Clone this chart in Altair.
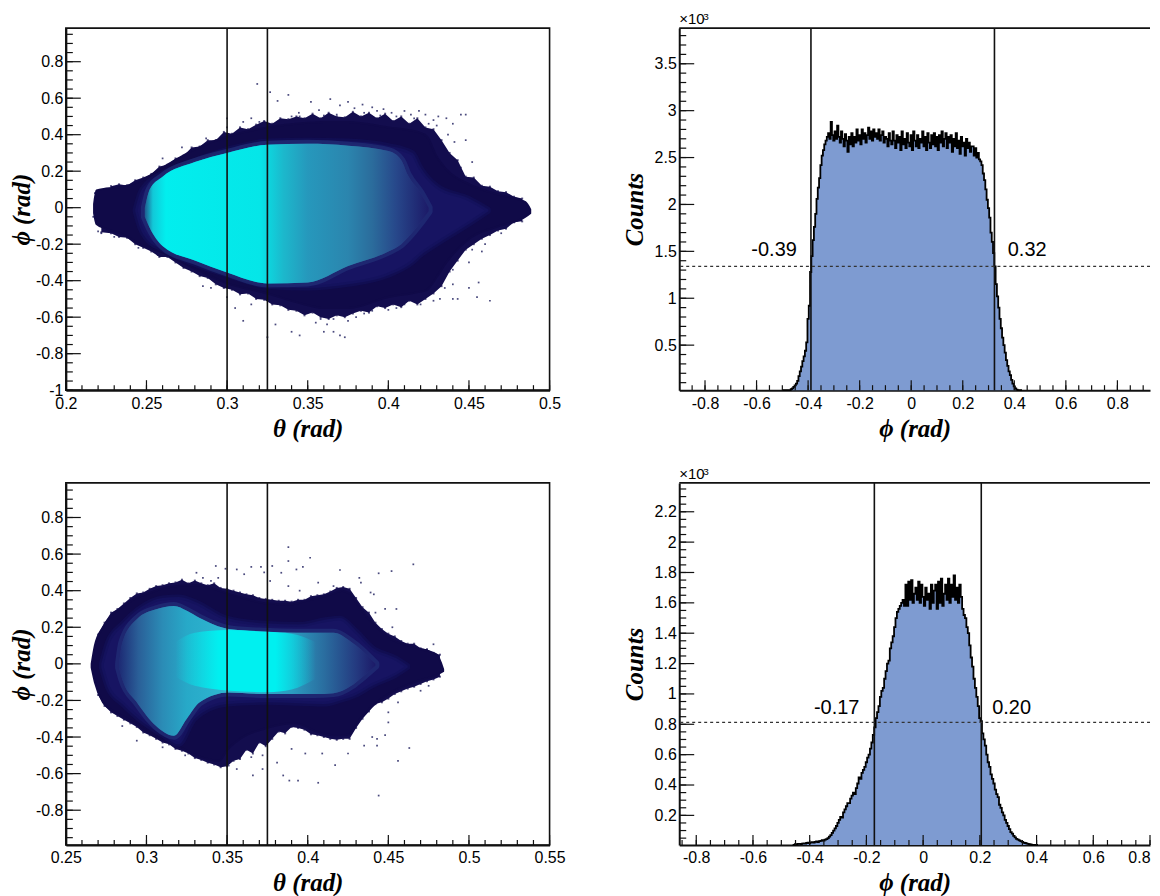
import altair as alt
import pandas as pd

# ---------- top-left heat map (theta vs phi) contours
a_outer_t = [.2175,.219,.225,.235,.245,.26,.28,.3,.325,.35,.36,.375,.4,.42,.424,.43,.436,.451,.469,.485,.488]
a_outer_u = [.02,.095,.105,.115,.14,.22,.32,.39,.44,.465,.47,.47,.44,.41,.39,.28,.21,.125,.07,.03,-.01]
a_outer_l = [-.03,-.09,-.115,-.145,-.195,-.245,-.335,-.415,-.47,-.535,-.55,-.55,-.49,-.46,-.45,-.38,-.30,-.165,-.10,-.05,-.03]
a_mid_t = [.243,.246,.25,.26,.28,.3,.325,.35,.375,.4,.415,.42,.43,.45,.462]
a_mid_u = [-.01,.08,.13,.19,.26,.32,.365,.37,.365,.34,.30,.22,.12,.05,-.01]
a_mid_l = [-.02,-.11,-.17,-.23,-.31,-.37,-.43,-.44,-.42,-.37,-.30,-.26,-.2,-.09,-.02]
a_in_t = [.249,.252,.26,.28,.3,.325,.35,.375,.4,.408,.412,.42,.425]
a_in_u = [.0,.10,.17,.25,.30,.345,.35,.34,.31,.26,.18,.08,0]
a_in_l = [-.05,-.11,-.21,-.29,-.355,-.415,-.41,-.32,-.24,-.2,-.165,-.08,-.02]
a_stops_t = [.249,.254,.262,.32,.335,.35,.375,.39,.405,.425]
a_stops_c = ["#1f5c90","#12c8d8","#02eeee","#05e6e8","#1cb8cc","#2698bc","#2b85ae","#2b6c9c","#27478a","#1c1a68"]
a_sx = [.3187,.3267,.3313,.338,.3445,.352,.357,.364,.37,.375,.379,.384,.39,.393,.397,.402,.405,.41,.414,.419,.423,.428,.431,.436,.44,.445,.448,.437,.441,.448,.452,.445,.34,.345,.36,.368,.377,.385,.395,.408,.416,.425,.43,.3,.287,.272,.26,.31,.315,.32,.3,
        .31,.3,.305,.315,.33,.325,.34,.345,.36,.366,.37,.373,.355,.362,.358,.366,.375,.38,.385,.39,.4,.405,.41,.42,.428,.432,.44,.443,.455,.463,.456,.45,.44,.435,.44,.45,.452,.46,.458,.47,.29,.27,.285,.257,.245,.23,.22,.218,.217,.218,.22,.222]
a_sy = [.678,.633,.585,.618,.52,.58,.535,.595,.56,.58,.545,.565,.55,.53,.54,.52,.50,.53,.51,.53,.51,.48,.50,.49,.46,.51,.51,.40,.36,.37,.25,.22,.50,.5,.505,.51,.51,.52,.505,.49,.49,.46,.45,.49,.38,.33,.27,.47,.49,.47,.44,
        -.62,-.49,-.55,-.53,-.64,-.71,-.68,-.70,-.68,-.68,-.70,-.71,-.63,-.64,-.61,-.61,-.62,-.6,-.58,-.565,-.56,-.55,-.53,-.53,-.51,-.5,-.50,-.50,-.49,-.51,-.41,-.44,-.42,-.44,-.34,-.3,-.23,-.2,-.24,-.14,-.44,-.30,-.43,-.26,-.22,-.16,-.13,.08,-.05,.02,.09,-.14]
a_fr_top_t = [.228,.233,.238,.243,.248,.253,.258,.263,.268,.273,.278,.283,.288,.293,.298,.303,.308,.313,.318,.323,.328,.333,.338,.343,.348,.353,.358,.363,.368,.373,.378,.383,.388,.393,.398,.403,.408,.413,.418,.423,.428,.433,.438,.443,.448,.453,.458,.463,.468,.473,.478,.483]
a_fr_top_y = [.118,.128,.122,.15,.165,.185,.225,.235,.27,.285,.33,.335,.37,.37,.415,.405,.44,.43,.455,.475,.46,.49,.485,.50,.49,.515,.49,.52,.50,.495,.525,.50,.52,.49,.515,.475,.50,.46,.49,.44,.43,.37,.30,.26,.17,.165,.12,.115,.09,.085,.06,.05]
a_fr_low_t = [.222,.228,.233,.238,.243,.248,.253,.258,.263,.268,.273,.278,.283,.288,.293,.298,.303,.308,.313,.318,.323,.328,.333,.338,.343,.348,.353,.358,.363,.368,.373,.378,.383,.388,.393,.398,.403,.408,.413,.418,.423,.428,.433,.438,.443,.448,.453,.458,.463,.468,.473,.478,.483]
a_fr_low_y = [-.135,-.14,-.16,-.165,-.20,-.22,-.24,-.27,-.27,-.30,-.33,-.35,-.375,-.385,-.42,-.44,-.45,-.475,-.47,-.50,-.505,-.53,-.535,-.56,-.565,-.59,-.575,-.60,-.61,-.59,-.60,-.58,-.565,-.575,-.54,-.55,-.53,-.545,-.51,-.53,-.50,-.47,-.43,-.35,-.29,-.23,-.20,-.17,-.15,-.125,-.115,-.08,-.075]

# ---------- bottom-left heat map
c_outer_t = [.266,.268,.273,.278,.285,.294,.301,.312,.319,.331,.345,.35,.358,.375,.39,.393,.404,.409,.416,.421,.426,.43,.439,.45,.466,.48,.484]
c_outer_u = [0,.10,.20,.262,.31,.362,.385,.416,.425,.43,.40,.385,.365,.33,.325,.33,.355,.365,.385,.40,.385,.335,.235,.145,.09,.05,-.03]
c_outer_l = [-.02,-.10,-.21,-.25,-.284,-.33,-.375,-.42,-.447,-.50,-.53,-.47,-.41,-.35,-.325,-.325,-.365,-.38,-.39,-.39,-.385,-.33,-.24,-.165,-.10,-.06,-.04]
c_mid_t = [.272,.276,.285,.295,.31,.32,.33,.35,.375,.395,.41,.42,.43,.44,.455,.462]
c_mid_u = [0,.12,.22,.30,.36,.365,.34,.25,.22,.215,.24,.25,.18,.09,.03,-.01]
c_mid_l = [-.02,-.13,-.22,-.30,-.39,-.44,-.30,-.22,-.21,-.215,-.22,-.2,-.17,-.12,-.06,-.02]
c_in_t = [.283,.285,.294,.306,.317,.325,.333,.351,.374,.393,.404,.416,.427,.43,.442]
c_in_u = [.0,.116,.244,.298,.316,.29,.25,.19,.175,.17,.17,.17,.12,.10,0]
c_in_l = [-.02,-.084,-.21,-.34,-.393,-.30,-.21,-.156,-.165,-.165,-.165,-.16,-.12,-.10,-.01]
c_stops_t = [.283,.295,.31,.325,.35,.39,.41,.43,.442]
c_stops_c = ["#1d2a74","#2a5f98","#2b8cb6","#27a9c8","#2fb6d0","#2b9cc0","#2a6ea0","#243a80","#1c1a68"]
c_core_t = [.318,.33,.35,.375,.39,.405]
c_core_u = [.12,.17,.185,.175,.165,.12]
c_core_l = [-.07,-.12,-.145,-.155,-.14,-.08]
c_core_stops_t = [.318,.345,.38,.405]
c_core_stops_c = ["rgba(0,240,240,0)","rgba(0,240,240,1)","rgba(0,240,240,1)","rgba(0,240,240,0)"]
c_sx = [.388,.4015,.388,.397,.393,.4655,.452,.444,.42,.432,.3836,.371,.365,.378,.356,.349,.343,.331,.335,.34,.3445,.3606,.373,.3767,.388,.395,.4065,.416,.433,.439,.441,.455,.448,.442,.4525,.478,
        .443,.44,.463,.456,.444,.417,.4065,.394,.3886,.3848,.372,.366,.356,.351,.347,.365,.372,.381,.39,.3985,.409,.425,.435,.443,.448,.45,.45,.456,.47,.475,.324,.31,.294,.285]
c_sy = [.638,.58,.562,.53,.516,.544,.507,.495,.513,.47,.498,.53,.53,.535,.516,.52,.535,.498,.47,.453,.47,.49,.5,.453,.425,.40,.444,.425,.444,.39,.38,.3,.3,.28,.2,.107,
        -.41,-.4,-.46,-.53,-.72,-.553,-.65,-.638,-.638,-.61,-.575,-.61,-.575,-.556,-.556,-.51,-.5,-.54,-.465,-.49,-.49,-.49,-.447,-.447,-.39,-.265,-.32,-.21,-.147,-.12,-.50,-.456,-.42,-.34]
c_fr_t = [.27,.274,.278,.282,.286,.29,.294,.298,.302,.306,.31,.314,.318,.322,.326,.33,.334,.338,.342,.346,.35,.354,.358,.362,.366,.37,.374,.378,.382,.386,.39,.394,.398,.402,.406,.41,.414,.418,.422,.426,.43,.434,.438,.442,.446,.45,.454,.458,.462,.466,.47,.474,.478,.482]
c_fr_top_y = [.16,.225,.28,.30,.33,.36,.385,.39,.41,.425,.43,.44,.445,.46,.44,.455,.44,.43,.44,.415,.41,.40,.39,.38,.375,.36,.355,.35,.345,.345,.34,.35,.35,.37,.375,.38,.395,.415,.42,.41,.36,.31,.28,.225,.19,.165,.15,.125,.11,.11,.085,.08,.06,.05]
c_fr_low_y = [-.17,-.23,-.265,-.285,-.305,-.325,-.345,-.375,-.39,-.41,-.43,-.44,-.465,-.475,-.49,-.515,-.525,-.54,-.55,-.565,-.56,-.53,-.52,-.47,-.49,-.43,-.45,-.41,-.37,-.38,-.345,-.35,-.36,-.385,-.39,-.40,-.41,-.415,-.41,-.41,-.35,-.30,-.26,-.22,-.21,-.19,-.165,-.15,-.135,-.125,-.11,-.095,-.085,-.07]

# ---------- top-right histogram (x10^3 counts), bins of 0.005 rad from -0.50
b_counts = [
 0,.002,.004,.006,.01,.015,.02,.03,.04,.055,
 .07,.09,.12,.17,.22,.27,.33,.38,.44,.53,
 .78,.92,1.28,1.45,1.62,1.76,1.90,2.06,2.18,2.28,
 2.42,2.52,2.58,2.64,2.68,
 2.72,2.76,2.70,2.88,2.74,2.68,2.78,2.70,2.84,2.72,
 2.66,2.78,2.70,2.62,2.75,2.68,2.56,2.72,2.64,2.76,
 2.62,2.72,2.66,2.80,2.68,2.74,2.64,2.80,2.70,2.76,
 2.66,2.74,2.82,2.70,2.78,2.68,2.80,2.72,2.76,2.70,
 2.80,2.68,2.74,2.78,2.66,2.72,2.70,2.62,2.76,2.68,
 2.64,2.78,2.68,2.60,2.74,2.66,2.72,2.58,2.78,2.64,
 2.70,2.60,2.76,2.66,2.62,2.74,2.58,2.78,2.68,2.62,
 2.74,2.60,2.70,2.66,2.78,2.62,2.72,2.58,2.76,2.66,
 2.60,2.74,2.64,2.76,2.62,2.72,2.58,2.74,2.66,2.78,
 2.62,2.70,2.76,2.60,2.72,2.66,2.74,2.56,2.70,2.62,
 2.76,2.60,2.68,2.54,2.72,2.62,2.66,2.52,2.70,2.60,
 2.66,2.56,2.62,
 2.62,2.52,2.60,2.50,2.55,2.48,2.46,2.42,2.33,2.26,
 2.16,2.05,1.96,1.86,1.70,1.60,1.48,1.34,1.15,1.02,
 .90,.78,.68,.58,.50,.42,.34,.28,.22,.18,
 .13,.09,.06,.04,.025,.015,.01,.006,.003]
b_start = -0.50

# ---------- bottom-right histogram, bins of 0.005 rad from -0.46
d_counts = [
 .006,.004,.01,.008,.012,.012,.01,.014,.016,.014,
 .018,.02,.018,.022,.024,.02,.026,.028,.024,.03,
 .032,.036,.034,.04,.044,.05,.06,.07,.085,.10,
 .115,.13,.15,.17,.19,.185,.22,.24,.26,.28,
 .28,.31,.33,.35,.34,.38,.41,.45,.44,.48,
 .50,.52,.55,.58,.60,.64,.68,.73,.78,.84,
 .88,.92,.98,1.02,1.04,1.10,1.15,1.20,1.22,1.30,
 1.34,1.38,1.44,1.50,1.54,1.56,1.58,1.60,1.62,1.58,
 1.72,1.58,1.74,1.62,1.75,1.60,1.66,1.70,1.62,1.74,
 1.60,1.72,1.64,1.58,1.70,1.62,1.66,1.56,1.72,1.60,
 1.68,1.72,1.56,1.74,1.60,1.76,1.58,1.66,1.72,1.62,
 1.76,1.60,1.72,1.64,1.78,1.62,1.70,1.60,1.72,1.64,
 1.56,1.52,1.50,1.44,1.40,1.32,1.24,1.18,1.10,1.04,
 .98,.92,.84,.82,.74,.70,.66,.60,.55,.52,
 .47,.44,.41,.37,.34,.32,.27,.25,.22,.20,
 .17,.15,.13,.11,.09,.08,.065,.055,.045,.04,
 .035,.03,.025,.02,.018,.015,.012,.01,.008,.006,
 .005,.004,.003,.002]
d_start = -0.46
bin_w = 0.005

# ---------- axes
th_major_a = [.2,.25,.3,.35,.4,.45,.5]
th_major_c = [.25,.3,.35,.4,.45,.5,.55]
th_minor_a = [round(.2+i*.01,2) for i in range(31)]
th_minor_c = [round(.25+i*.01,2) for i in range(31)]
ph_major_a = [-1,-.8,-.6,-.4,-.2,0,.2,.4,.6,.8]
ph_major_c = [-.8,-.6,-.4,-.2,0,.2,.4,.6,.8]
ph_minor = [round(-1+i*.05,2) for i in range(40)]
hx_major = [-.8,-.6,-.4,-.2,0,.2,.4,.6,.8]
hx_minor = [round(-.85+i*.05,2) for i in range(37)]
b_y_major = [.5,1,1.5,2,2.5,3,3.5]
b_y_minor = [round(.1+i*.1,1) for i in range(38)]
d_y_major = [.2,.4,.6,.8,1,1.2,1.4,1.6,1.8,2,2.2]
d_y_minor = [round(.05+i*.05,2) for i in range(47)]

W, WR, H = 485, 472, 363
SANS, SERIF = "Liberation Sans", "Liberation Serif"
INK = "#111111"
TITLE = 25
EDGE = "#130d4e"


def grad(ts, cs):
    lo, hi = min(ts), max(ts)
    return alt.Gradient(gradient="linear", x1=0, x2=1, y1=0, y2=0,
                        stops=[alt.GradientStop(color=c, offset=(t - lo) / (hi - lo)) for t, c in zip(ts, cs)])


XAX, YAX = {}, {}


def xs(dom):
    vals, title, flush = XAX[tuple(dom)]
    return alt.X("x:Q", scale=alt.Scale(domain=dom), axis=alt.Axis(
        values=vals, title=title, ticks=False, grid=False, domain=True, domainWidth=2, domainColor=INK,
        labelExpr="'' + datum.value", labelFont=SANS, labelFontSize=16, labelColor="#000", labelPadding=5,
        labelOverlap=False, labelFlush=flush, titleFont=SERIF, titleFontSize=TITLE, titleFontWeight="bold",
        titleFontStyle="italic", titleColor="#000", titlePadding=5))


def ys(dom):
    vals, title, pad = YAX[tuple(dom)]
    return alt.Y("y:Q", scale=alt.Scale(domain=dom, clamp=True), axis=alt.Axis(
        values=vals, title=title, ticks=False, grid=False, domain=True, domainWidth=2, domainColor=INK,
        labelExpr="'' + datum.value", labelFont=SANS, labelFontSize=16, labelColor="#000", labelPadding=3,
        labelOverlap=False, labelBaseline="middle", titleFont=SERIF, titleFontSize=TITLE, titleFontWeight="bold",
        titleFontStyle="italic", titleColor="#000", titlePadding=pad))


def ticks(xd, yd, xmaj, xmin, ymaj, ymin):
    out = []
    for vals, ln in ((xmin, 5), (xmaj, 10)):
        d = pd.DataFrame({"x": [v for v in vals if xd[0] <= v <= xd[1]]})
        out.append(alt.Chart(d).mark_rule(color=INK, strokeWidth=1.2).encode(
            x=xs(xd), y=alt.value(H), y2=alt.value(H - ln)))
    for vals, ln in ((ymin, 7), (ymaj, 15)):
        d = pd.DataFrame({"y": [v for v in vals if yd[0] <= v <= yd[1]]})
        out.append(alt.Chart(d).mark_rule(color=INK, strokeWidth=1.2).encode(
            y=ys(yd), x=alt.value(0), x2=alt.value(ln)))
    return out


def band(xd, yd, t, u, l, interp="monotone", **mk):
    d = pd.DataFrame({"x": t, "y": u, "y2": l})
    return alt.Chart(d).mark_area(interpolate=interp, **mk).encode(x=xs(xd), y=ys(yd), y2="y2:Q")


def vlines(xd, vals):
    d = pd.DataFrame({"x": vals})
    return alt.Chart(d).mark_rule(color=INK, strokeWidth=1.6).encode(x=xs(xd))


def heat(xd, yd, xv, yv, xmin, rules, outer, mid, inner, stops, speck, fr_top, fr_low, core=None):
    XAX[tuple(xd)] = (xv, "θ (rad)", False)
    YAX[tuple(yd)] = (yv, "ϕ (rad)", 1)
    g = grad(*stops)
    layers = []
    s = pd.DataFrame({"x": speck[0], "y": speck[1]})
    layers.append(alt.Chart(s).mark_square(size=3, color="#2a2a66", opacity=.85).encode(x=xs(xd), y=ys(yd)))
    f = pd.DataFrame({"x": fr_top[0] + fr_low[0], "y": fr_top[1] + fr_low[1]})
    layers.append(alt.Chart(f).mark_square(size=4, color=EDGE).encode(x=xs(xd), y=ys(yd)))
    layers.append(band(xd, yd, fr_top[0], fr_top[1], [0] * len(fr_top[0]), interp="linear", color=EDGE))
    layers.append(band(xd, yd, fr_low[0], [0] * len(fr_low[0]), fr_low[1], interp="linear", color=EDGE))
    layers.append(band(xd, yd, *outer, color="#100a48", stroke="#100a48", strokeWidth=2, strokeJoin="round"))
    layers.append(band(xd, yd, *mid, color="#171462", stroke="#13105a", strokeWidth=5, strokeOpacity=.6, strokeJoin="round"))
    layers.append(band(xd, yd, *inner, color=g, stroke="#25397f", strokeWidth=8, strokeOpacity=.5, strokeJoin="round"))
    layers.append(band(xd, yd, *inner, color=g))
    if core:
        layers.append(band(xd, yd, *core[0], color=grad(*core[1])))
    layers.append(vlines(xd, rules))
    layers += ticks(xd, yd, xv, xmin, yv, ph_minor)
    return alt.layer(*layers).properties(width=W, height=H)


def hist(xd, yd, counts, start, yv, ymin, rules, level, labels):
    XAX[tuple(xd)] = (hx_major, "ϕ (rad)", True)
    YAX[tuple(yd)] = (yv, "Counts", 7)
    d = pd.DataFrame({"x": [round(start + i * bin_w, 3) for i in range(len(counts))], "y": counts})
    d["y2"] = yd[0]
    layers = []
    layers.append(alt.Chart(d).mark_area(color="#7e9bd1", interpolate="step").encode(x=xs(xd), y=ys(yd), y2="y2:Q"))
    layers.append(alt.Chart(d).mark_line(color="#000", strokeWidth=1.8, interpolate="step").encode(x=xs(xd), y=ys(yd)))
    layers.append(vlines(xd, rules))
    layers.append(alt.Chart(pd.DataFrame({"y": [level]})).mark_rule(color="#333", strokeWidth=1.2, strokeDash=[3, 3]).encode(y=ys(yd)))
    lab = pd.DataFrame({"x": labels[0], "y": labels[1], "t": labels[2]})
    layers.append(alt.Chart(lab).mark_text(font=SANS, fontSize=20, color="#000").encode(x=xs(xd), y=ys(yd), text="t:N"))
    layers += ticks(xd, yd, hx_major, hx_minor, yv, ymin)
    layers.append(alt.Chart(pd.DataFrame({"a": [0]})).mark_rule(color=INK, strokeWidth=1.6).encode(
        x=alt.value(0), x2=alt.value(WR), y=alt.value(0)))
    layers.append(alt.Chart(pd.DataFrame({"t": ["×10"]})).mark_text(font=SANS, fontSize=15, color="#000", align="left", baseline="bottom").encode(
        x=alt.value(0), y=alt.value(-1), text="t:N"))
    layers.append(alt.Chart(pd.DataFrame({"t": ["3"]})).mark_text(font=SANS, fontSize=10, color="#000", align="left", baseline="bottom").encode(
        x=alt.value(24), y=alt.value(-6), text="t:N"))
    return alt.layer(*layers).properties(width=WR, height=H, view=alt.ViewConfig(stroke="transparent"))


A = heat([.2, .5], [-1, .984], th_major_a, ph_major_a, th_minor_a, [.3, .325],
         (a_outer_t, a_outer_u, a_outer_l), (a_mid_t, a_mid_u, a_mid_l), (a_in_t, a_in_u, a_in_l),
         (a_stops_t, a_stops_c), (a_sx, a_sy), (a_fr_top_t, a_fr_top_y), (a_fr_low_t, a_fr_low_y))
B = hist([-.9, .9265], [.02, 3.88], b_counts, b_start, b_y_major, b_y_minor, [-.389, .323], 1.34,
         ([-.532, .45], [1.51, 1.51], ["-0.39", "0.32"]))
C = heat([.25, .55], [-.99, .989], th_major_c, ph_major_c, th_minor_c, [.35, .375],
         (c_outer_t, c_outer_u, c_outer_l), (c_mid_t, c_mid_u, c_mid_l), (c_in_t, c_in_u, c_in_l),
         (c_stops_t, c_stops_c), (c_sx, c_sy), (c_fr_t, c_fr_top_y), (c_fr_t, c_fr_low_y),
         core=((c_core_t, c_core_u, c_core_l), (c_core_stops_t, c_core_stops_c)))
D = hist([-.86, .8], [.005, 2.39], d_counts, d_start, d_y_major, d_y_minor, [-.172, .205], .813,
         ([-.305, .312], [.91, .91], ["-0.17", "0.20"]))

chart = alt.concat(A, B, C, D, columns=2, spacing={"row": 93, "column": 130}, bounds="flush").properties(
    padding={"left": 0, "top": 2, "right": 0, "bottom": 0}, background="white"
).configure_view(stroke=INK, strokeWidth=1.6)

chart.save("out.html", embed_options={"renderer": "svg", "actions": False})
